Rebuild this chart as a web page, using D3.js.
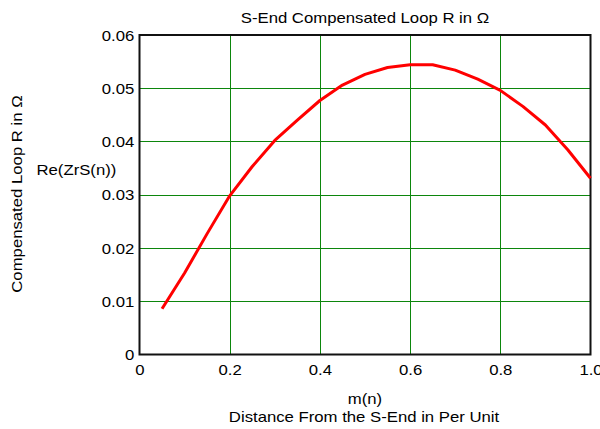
<!DOCTYPE html>
<html><head><meta charset="utf-8">
<script src="https://cdn.jsdelivr.net/npm/d3@7"></script>
<style>body{margin:0;background:#fff}svg{display:block}text{font-family:"Liberation Sans",Arial,sans-serif;fill:#000}</style>
</head><body>
<svg id="c" width="600" height="429"></svg>
<script>
const mValues = [0.05,0.1,0.15,0.2,0.25,0.3,0.35,0.4,0.45,0.5,0.55,0.6,0.65,0.7,0.75,0.8,0.85,0.9,0.95,1.0];
const reZrS = [0.0086,0.0153,0.0227,0.0298,0.0353,0.0402,0.0440,0.0477,0.0506,0.0526,0.0539,0.0544,0.0544,0.0534,0.0517,0.0496,0.0466,0.0431,0.0384,0.0331];
const xTicks = [0,0.2,0.4,0.6,0.8,1.0];
const xTickLabels = ["0","0.2","0.4","0.6","0.8","1.0"];
const yTicks = [0,0.01,0.02,0.03,0.04,0.05,0.06];
const yTickLabels = ["0","0.01","0.02","0.03","0.04","0.05","0.06"];

const FS = 14.3, SX = 1.17;
const svg = d3.select("#c");
const L=139.5, R=590.5, T=35, B=354.5;
const x = d3.scaleLinear().domain([0,1]).range([L,R]);
const y = d3.scaleLinear().domain([0,0.06]).range([B,T]);

// grid
const g = svg.append("g");
g.selectAll(".vx").data(xTicks.slice(1,-1)).enter().append("line")
  .attr("x1",d=>Math.round(x(d))+0.5).attr("x2",d=>Math.round(x(d))+0.5).attr("y1",T).attr("y2",B)
  .attr("stroke","#0c860c").attr("stroke-width",1);
g.selectAll(".hy").data(yTicks.slice(1,-1)).enter().append("line")
  .attr("y1",d=>Math.round(y(d))+0.5).attr("y2",d=>Math.round(y(d))+0.5).attr("x1",L).attr("x2",R)
  .attr("stroke","#0c860c").attr("stroke-width",1);

// axes via d3
const xAxis = d3.axisBottom(x).tickValues(xTicks).tickFormat((d,i)=>xTickLabels[i]).tickSize(0).tickPadding(0);
const yAxis = d3.axisLeft(y).tickValues(yTicks).tickFormat((d,i)=>yTickLabels[i]).tickSize(0).tickPadding(0);
const gx = svg.append("g").attr("transform",`translate(0,${B})`).call(xAxis);
const gy = svg.append("g").attr("transform",`translate(${L},0)`).call(yAxis);
[gx,gy].forEach(a=>{a.select(".domain").remove();a.selectAll("text").attr("font-size",FS).attr("font-family","Liberation Sans, Arial, sans-serif").attr("fill","#000");});
gx.selectAll("text").attr("y",0).attr("dy",null).attr("transform",`translate(0,20) scale(${SX},1)`);
gy.selectAll("text").attr("x",0).attr("dy","0.35em").attr("transform",`translate(-5.2,0) scale(${SX},1)`);

// frame
svg.append("rect").attr("x",L).attr("y",T).attr("width",R-L).attr("height",B-T)
  .attr("fill","none").attr("stroke","#111").attr("stroke-width",2);

// line
const line = d3.line().x((d,i)=>x(mValues[i])).y(d=>y(d));
svg.append("path").datum(reZrS).attr("d",line).attr("fill","none")
  .attr("stroke","#ff0000").attr("stroke-width",3).attr("stroke-linejoin","round");

// texts
function txt(tx,ty,s,anchor,rot){
  svg.append("text").attr("transform",`translate(${tx},${ty})${rot?" rotate(-90)":""} scale(${SX},1)`)
    .attr("text-anchor",anchor).attr("font-size",FS).text(s);
}
txt(365,23,"S-End Compensated Loop R in Ω","middle");
txt(365,403.5,"m(n)","middle");
txt(364,421.5,"Distance From the S-End in Per Unit","middle");
txt(21.5,194,"Compensated Loop R in Ω","middle",true);
txt(36.5,175,"Re(ZrS(n))","start");
</script>
</body></html>
